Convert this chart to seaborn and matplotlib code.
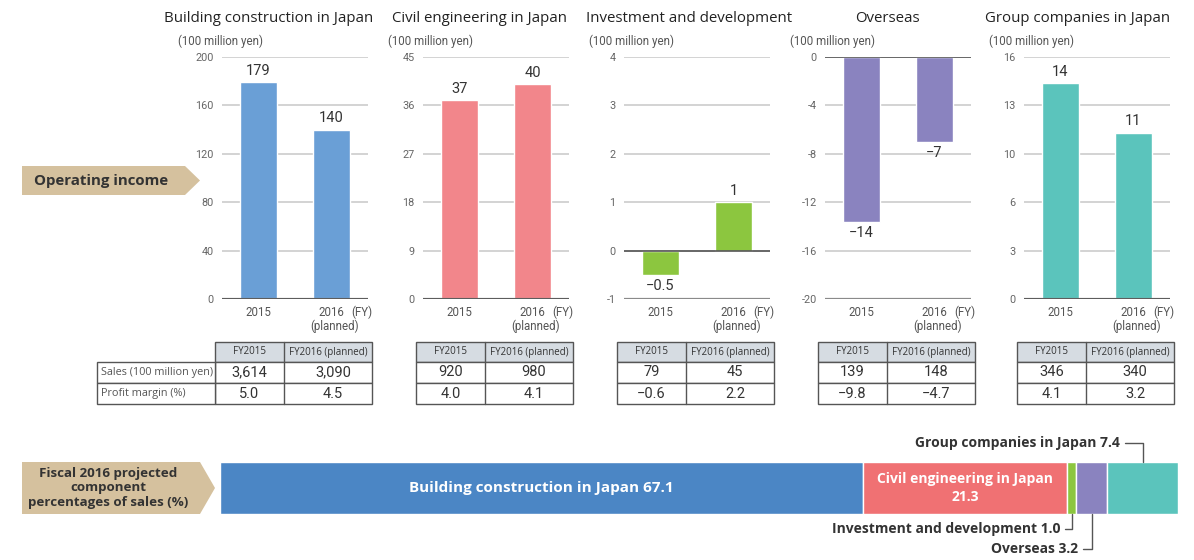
import numpy as np
import pandas as pd
import seaborn as sns
import matplotlib
matplotlib.use('Agg')
import matplotlib.pyplot as plt
from matplotlib.patches import Polygon, Rectangle

# ---- data ----
segments = ["Building construction in Japan", "Civil engineering in Japan",
            "Investment and development", "Overseas", "Group companies in Japan"]
years = ["2015", "2016"]

# operating income (100 million yen), FY2015 / FY2016 planned
income_building = [179, 140]
income_civil = [37, 40]
income_invest = [-0.5, 1.0]
income_overseas = [-13.6, -7.0]
income_group = [14.3, 11.0]
income_labels = [["179", "140"], ["37", "40"], ["\u22120.5", "1"],
                 ["\u221214", "\u22127"], ["14", "11"]]

# y axis ticks per panel
yticks = [[0, 40, 80, 120, 160, 200],
          [0, 9, 18, 27, 36, 45],
          [-1, 0, 1, 2, 3, 4],
          [-20, -16, -12, -8, -4, 0],
          [0, 3.2, 6.4, 9.6, 12.8, 16]]
ytick_labels = [["0", "40", "80", "120", "160", "200"],
                ["0", "9", "18", "27", "36", "45"],
                ["-1", "0", "1", "2", "3", "4"],
                ["-20", "-16", "-12", "-8", "-4", "0"],
                ["0", "3", "6", "10", "13", "16"]]

# table values
sales_2015 = ["3,614", "920", "79", "139", "346"]
sales_2016 = ["3,090", "980", "45", "148", "340"]
margin_2015 = ["5.0", "4.0", "\u22120.6", "\u22129.8", "4.1"]
margin_2016 = ["4.5", "4.1", "2.2", "\u22124.7", "3.2"]

# fiscal 2016 projected component percentages of sales
share_2016 = [67.1, 21.3, 1.0, 3.2, 7.4]

bar_colors = ["#6a9fd6", "#f2868b", "#8cc63f", "#8a83bf", "#5bc4bc"]
share_colors = ["#4b86c5", "#f07173", "#8cc63f", "#8a83bf", "#5bc4bc"]
tan = "#d5c19e"

sns.set_theme(style="white")
plt.rcParams['font.family'] = ['Open Sans', 'DejaVu Sans']
num_font = ['Roboto', 'DejaVu Sans']

W, H = 1194, 560
fig = plt.figure(figsize=(W / 100, H / 100), dpi=100)


def fx(px):
    return px / W


def fy(py):
    return 1 - py / H


# overlay in pixel coords for arrows and tables
ov = fig.add_axes([0, 0, 1, 1])
ov.set_xlim(0, W)
ov.set_ylim(H, 0)
ov.axis("off")

ax_lefts = [222, 423, 624, 825, 1024]
title_x = [269, 479, 689, 887, 1078]
ax_w = 146
ax_top, ax_bot = 57, 299
incomes = [income_building, income_civil, income_invest, income_overseas, income_group]

for i in range(5):
    l = ax_lefts[i]
    ax = fig.add_axes([fx(l), fy(ax_bot), fx(ax_w), (ax_bot - ax_top) / H])
    df = pd.DataFrame({"year": years, "value": incomes[i]})
    sns.barplot(data=df, x="year", y="value", color=bar_colors[i], width=0.5,
                saturation=1, ax=ax, zorder=2)
    ax.set_xlim(-0.5, 1.5)
    lo, hi = yticks[i][0], yticks[i][-1]
    ax.set_ylim(lo, hi)
    for t in yticks[i]:
        ax.axhline(t, color="#d0d0d0", lw=1.3, zorder=0)
    ax.axhline(lo, color="#8a8a8a", lw=1.6, zorder=3)
    ax.axhline(0, color="#555555", lw=1.2, zorder=3)
    for s in ax.spines.values():
        s.set_visible(False)
    ax.set_yticks(yticks[i])
    ax.set_yticklabels(ytick_labels[i], color="#666666", fontsize=7.8, family=num_font)
    ax.set_xticks([0, 1])
    ax.set_xticklabels(years, color="#555555", fontsize=8.3, family=num_font)
    ax.tick_params(length=0, axis="y", pad=6)
    ax.tick_params(length=0, axis="x", pad=5)
    ax.set_xlabel("")
    ax.set_ylabel("")
    ax.annotate("(FY)", xy=(1, 0), xycoords="axes fraction", xytext=(3, -5),
                textcoords="offset points", ha="right", va="top",
                fontsize=8.3, color="#555555", family=num_font)
    ax.annotate("(planned)", xy=(1, 0), xycoords=("data", "axes fraction"),
                xytext=(2, -15), textcoords="offset points", ha="center", va="top",
                fontsize=8.3, color="#555555", family=num_font)
    for j, v in enumerate(incomes[i]):
        off, va = (3, "bottom") if v >= 0 else (-3, "top")
        ax.annotate(income_labels[i][j], xy=(j, v), xytext=(0, off),
                    textcoords="offset points", ha="center", va=va,
                    fontsize=10.5, color="#333333", family=num_font)

    fig.text(fx(title_x[i]), fy(18), segments[i], ha="center", va="center",
             fontsize=10.8, color="#222222")
    fig.text(fx(l - 44 if i == 0 else l - 35), fy(41), "(100 million yen)",
             ha="left", va="center", fontsize=8.3, color="#555555", family=num_font)

    # table under the panel
    x0 = l - 7
    cw = [69, 88]
    rows = [(342, 362), (362, 383), (383, 404)]
    ov.add_patch(Rectangle((x0, rows[0][0]), sum(cw), rows[0][1] - rows[0][0],
                           fc="#d6dce2", ec="#555555", lw=1))
    for r in rows[1:]:
        ov.add_patch(Rectangle((x0, r[0]), sum(cw), r[1] - r[0], fc="white",
                               ec="#555555", lw=1))
    ov.plot([x0 + cw[0], x0 + cw[0]], [rows[0][0], rows[2][1]], color="#555555", lw=1)
    c1, c2 = x0 + cw[0] / 2, x0 + cw[0] + cw[1] / 2
    hy = sum(rows[0]) / 2
    ov.text(c1, hy, "FY2015", ha="center", va="center", fontsize=7, color="#333333")
    ov.text(c2, hy, "FY2016 (planned)", ha="center", va="center", fontsize=7,
            color="#333333")
    for r, (a, b) in zip(rows[1:], [(sales_2015[i], sales_2016[i]),
                                    (margin_2015[i], margin_2016[i])]):
        ry = sum(r) / 2
        ov.text(c1, ry, a, ha="center", va="center", fontsize=10.5, color="#333333",
                family=num_font)
        ov.text(c2 + 5, ry, b, ha="center", va="center", fontsize=10.5, color="#333333",
                family=num_font)
    if i == 0:
        for r, lab in zip(rows[1:], ["Sales (100 million yen)", "Profit margin (%)"]):
            ov.add_patch(Rectangle((97, r[0]), x0 - 97, r[1] - r[0], fc="white",
                                   ec="#555555", lw=1))
            ov.text(101, sum(r) / 2, lab, ha="left", va="center", fontsize=7.8,
                    color="#555555")

# arrow labels
ov.add_patch(Polygon([(22, 166), (185, 166), (200, 180.5), (185, 195), (22, 195)],
                     closed=True, fc=tan, ec="none"))
ov.text(101, 181, "Operating income", ha="center", va="center", fontsize=10.8,
        fontweight="bold", color="#333333")
ov.add_patch(Polygon([(22, 462), (200, 462), (215, 488), (200, 514), (22, 514)],
                     closed=True, fc=tan, ec="none"))
ov.text(108, 488, "Fiscal 2016 projected\ncomponent\npercentages of sales (%)",
        ha="center", va="center", fontsize=9.6, fontweight="bold", color="#333333",
        linespacing=1.15)

# bottom stacked share bar
bax = fig.add_axes([fx(220), fy(514), fx(958), 52 / H])
left = np.concatenate([[0], np.cumsum(share_2016)[:-1]])
bax.barh(0, share_2016, left=left, height=1, color=share_colors)
bax.set_xlim(0, sum(share_2016))
bax.set_ylim(-0.5, 0.5)
bax.axis("off")
centers = left + np.array(share_2016) / 2
bax.text(centers[0], 0, f"{segments[0]} {share_2016[0]}", ha="center", va="center",
         color="white", fontsize=11, fontweight="bold")
bax.text(centers[1], 0, f"{segments[1]}\n{share_2016[1]}", ha="center", va="center",
         color="white", fontsize=10, fontweight="bold", linespacing=1.3)
tr = bax.get_xaxis_transform()
ann = [(4, 1, (-16, 14)), (2, 0, (-8, -11)), (3, 0, (-10, -25))]
for k, yy, off in ann:
    bax.annotate(f"{segments[k]} {share_2016[k]}", xy=(centers[k], yy), xycoords=tr,
                 xytext=off, textcoords="offset points", ha="right", va="center",
                 fontsize=10, fontweight="bold", color="#333333",
                 arrowprops=dict(arrowstyle="-", color="#555555", lw=1,
                                 connectionstyle="angle,angleA=0,angleB=90,rad=0",
                                 relpos=(1, 0.5), shrinkA=1, shrinkB=0))

fig.savefig("out.png", dpi=100)
